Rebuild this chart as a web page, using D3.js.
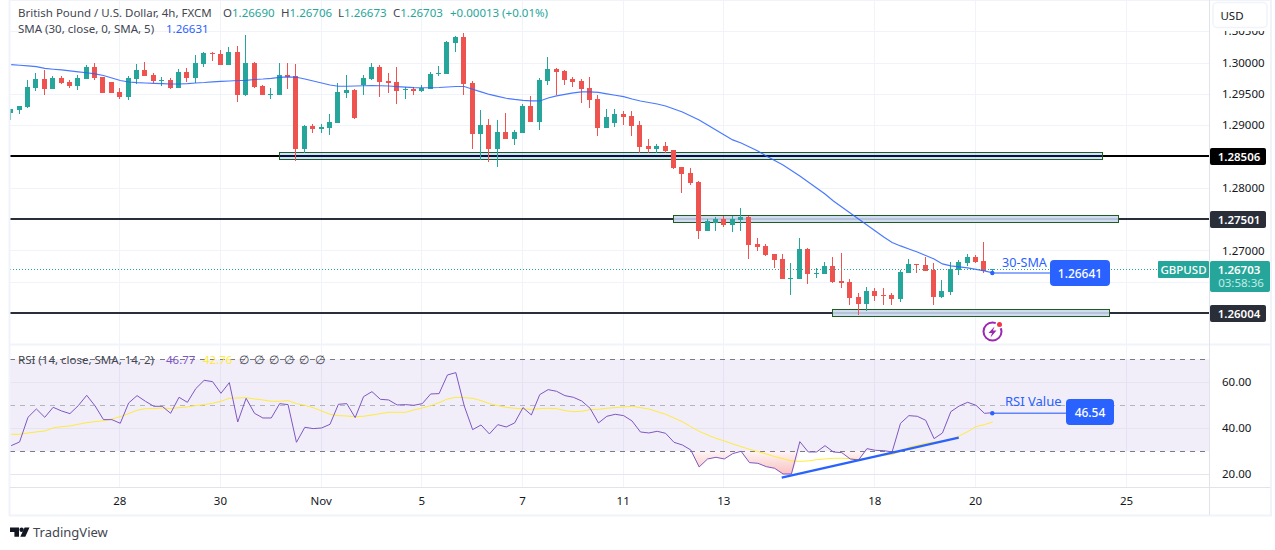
<!DOCTYPE html>
<html>
<head>
<meta charset="utf-8">
<script src="https://cdn.jsdelivr.net/npm/d3@7"></script>
<style>
	html, body { margin: 0; padding: 0; background: #fff; }
	svg { display: block; }
	text { font-family: "Noto Sans", sans-serif; }
</style>
</head>
<body>
<div id="chart"></div>
<script>
// 4h GBPUSD bars
var opens = [
	1.29190,1.29242,1.29290,1.29593,1.29737,1.29578,1.29758,1.29694,1.29625,1.29737,
	1.29929,1.29769,1.29689,1.29530,1.29450,1.29737,1.29881,1.29801,1.29705,1.29721,
	1.29593,1.29849,1.29753,1.29976,1.30152,1.30136,1.29960,1.30168,1.29482,1.29992,
	1.29625,1.29482,1.29482,1.29801,1.29785,1.28620,1.28987,1.28939,1.28955,1.29035,
	1.29514,1.29562,1.29641,1.29737,1.29929,1.29705,1.29689,1.29566,1.29578,1.29546,
	1.29578,1.29817,1.29817,1.30312,1.30407,1.29673,1.28859,1.29003,1.28620,1.28891,
	1.28780,1.28875,1.29306,1.29051,1.29705,1.29897,1.29865,1.29737,1.29705,1.29593,
	1.29418,1.28955,1.29035,1.29179,1.29147,1.29003,1.28668,1.28620,1.28668,1.28604,
	1.28333,1.28237,1.28093,1.27311,1.27439,1.27503,1.27407,1.27487,1.27535,1.27104,
	1.27072,1.26944,1.26864,1.26550,1.26545,1.27024,1.26625,1.26625,1.26753,1.26513,
	1.26497,1.26258,1.26146,1.26354,1.26290,1.26290,1.26226,1.26641,1.26785,1.26769,
	1.26689,1.26258,1.26338,1.26689,1.26800,1.26896,1.26832,1.26690
];
var highs = [
	1.29263,1.29306,1.29726,1.29833,1.29881,1.29785,1.29785,1.29721,1.29801,1.29960,
	1.29992,1.29769,1.29689,1.29589,1.29785,1.29976,1.30008,1.29828,1.29769,1.29748,
	1.29897,1.29913,1.30120,1.30168,1.30168,1.30200,1.30248,1.30264,1.30439,1.30008,
	1.29641,1.29593,1.29992,1.29992,1.29976,1.28998,1.29019,1.29019,1.29179,1.29668,
	1.29801,1.29578,1.29801,1.29992,1.29960,1.29833,1.29929,1.29609,1.29609,1.29641,
	1.29849,1.29945,1.30344,1.30423,1.30471,1.29705,1.29242,1.29099,1.29083,1.29195,
	1.28923,1.29338,1.29466,1.29753,1.30088,1.29913,1.29881,1.29769,1.29737,1.29769,
	1.29482,1.29258,1.29258,1.29226,1.29226,1.29067,1.28780,1.28700,1.28732,1.28604,
	1.28333,1.28317,1.28109,1.27503,1.27535,1.27551,1.27551,1.27678,1.27551,1.27200,
	1.27104,1.26944,1.26944,1.26800,1.27200,1.27040,1.26721,1.26816,1.26896,1.26960,
	1.26545,1.26322,1.26417,1.26401,1.26401,1.26322,1.26689,1.26864,1.26785,1.26896,
	1.26800,1.26529,1.26816,1.26848,1.26944,1.26928,1.27136,1.26706
];
var lows = [
	1.29083,1.29179,1.29270,1.29550,1.29482,1.29578,1.29657,1.29598,1.29562,1.29737,
	1.29721,1.29514,1.29514,1.29418,1.29402,1.29657,1.29785,1.29668,1.29625,1.29578,
	1.29593,1.29689,1.29668,1.29929,1.30024,1.29960,1.29960,1.29370,1.29466,1.29593,
	1.29482,1.29418,1.29482,1.29578,1.28428,1.28561,1.28875,1.28875,1.28843,1.29035,
	1.29434,1.29099,1.29482,1.29721,1.29450,1.29514,1.29338,1.29418,1.29482,1.29530,
	1.29578,1.29785,1.29817,1.30168,1.29482,1.28620,1.28444,1.28412,1.28333,1.28780,
	1.28684,1.28875,1.29051,1.28923,1.29641,1.29482,1.29641,1.29609,1.29354,1.29274,
	1.28827,1.28955,1.28971,1.29003,1.28827,1.28556,1.28556,1.28556,1.28556,1.28301,
	1.27918,1.28045,1.27184,1.27311,1.27311,1.27375,1.27295,1.27311,1.26864,1.26992,
	1.26912,1.26721,1.26545,1.26290,1.26545,1.26465,1.26561,1.26625,1.26481,1.26401,
	1.26130,1.25971,1.26034,1.26194,1.26130,1.26130,1.26178,1.26641,1.26641,1.26673,
	1.26130,1.26242,1.26290,1.26609,1.26753,1.26800,1.26641,1.26673
];
var closes = [
	1.29263,1.29306,1.29609,1.29737,1.29578,1.29758,1.29673,1.29621,1.29753,1.29929,
	1.29753,1.29514,1.29514,1.29450,1.29753,1.29881,1.29785,1.29705,1.29721,1.29593,
	1.29849,1.29753,1.29992,1.30152,1.30131,1.29960,1.30168,1.29482,1.29992,1.29609,
	1.29482,1.29498,1.29801,1.29769,1.28620,1.28987,1.28939,1.28971,1.29051,1.29530,
	1.29562,1.29115,1.29753,1.29929,1.29689,1.29673,1.29546,1.29578,1.29546,1.29593,
	1.29817,1.29833,1.30328,1.30407,1.29657,1.28859,1.29003,1.28620,1.28891,1.28780,
	1.28891,1.29306,1.29051,1.29721,1.29897,1.29849,1.29721,1.29689,1.29578,1.29402,
	1.28955,1.29131,1.29179,1.29131,1.28987,1.28652,1.28620,1.28668,1.28588,1.28317,
	1.28221,1.28077,1.27311,1.27471,1.27503,1.27407,1.27503,1.27535,1.27088,1.27056,
	1.26928,1.26848,1.26545,1.26561,1.27024,1.26625,1.26641,1.26753,1.26497,1.26481,
	1.26242,1.26146,1.26354,1.26274,1.26279,1.26226,1.26657,1.26785,1.26774,1.26673,
	1.26258,1.26354,1.26705,1.26816,1.26896,1.26816,1.26673,1.26703
];
var smaValues = [
	1.29965,1.29956,1.29945,1.29935,1.29905,1.29892,1.29881,1.29865,1.29849,1.29836,
	1.29817,1.29793,1.29753,1.29713,1.29689,1.29678,1.29673,1.29668,1.29664,1.29657,
	1.29657,1.29662,1.29673,1.29681,1.29692,1.29699,1.29705,1.29713,1.29716,1.29729,
	1.29737,1.29748,1.29764,1.29769,1.29764,1.29737,1.29705,1.29673,1.29641,1.29621,
	1.29621,1.29625,1.29629,1.29630,1.29629,1.29625,1.29616,1.29606,1.29598,1.29597,
	1.29597,1.29601,1.29609,1.29617,1.29617,1.29573,1.29530,1.29490,1.29458,1.29429,
	1.29410,1.29397,1.29389,1.29386,1.29434,1.29466,1.29490,1.29514,1.29530,1.29530,
	1.29522,1.29498,1.29477,1.29455,1.29418,1.29386,1.29362,1.29338,1.29306,1.29258,
	1.29210,1.29147,1.29083,1.29003,1.28923,1.28843,1.28764,1.28716,1.28652,1.28588,
	1.28508,1.28436,1.28365,1.28277,1.28189,1.28093,1.27998,1.27902,1.27790,1.27694,
	1.27598,1.27503,1.27407,1.27311,1.27216,1.27128,1.27072,1.27024,1.26976,1.26920,
	1.26864,1.26785,1.26753,1.26737,1.26721,1.26697,1.26673,1.26641
];
var rsiValues = [
	32.46,34.06,44.78,48.41,44.78,49.13,47.54,46.38,49.86,54.35,
	49.71,43.77,43.77,42.17,51.01,54.20,51.74,49.57,49.57,46.52,
	53.48,51.30,57.25,60.87,60.29,55.22,59.86,42.75,53.04,46.52,
	44.49,44.49,50.72,50.29,33.91,40.43,39.86,40.14,41.74,50.43,
	50.72,44.64,53.77,55.94,52.61,52.32,50.14,50.29,50.00,50.72,
	54.93,55.07,63.19,64.20,49.71,39.42,41.45,37.54,41.59,40.58,
	42.32,48.99,45.80,54.64,56.81,56.09,54.20,53.48,51.88,48.70,
	42.32,45.22,46.09,45.51,43.19,38.41,37.97,38.70,37.83,33.91,
	32.75,30.58,23.19,26.67,27.39,26.67,28.99,30.00,25.07,24.78,
	23.33,22.61,20.14,20.14,34.20,29.71,29.71,32.46,29.71,29.42,
	26.67,26.23,31.16,30.43,30.29,29.71,42.17,45.51,45.22,43.48,
	35.51,37.97,47.25,49.71,51.30,50.00,46.52,46.77
];
var rsiMaValues = [
	37.39,37.39,37.97,38.41,38.84,40.14,40.72,41.01,41.74,42.46,
	42.90,43.33,44.06,45.07,46.38,47.83,48.55,48.55,48.84,48.55,
	48.99,49.28,49.86,50.29,50.87,51.74,53.04,53.19,53.33,52.75,
	52.32,51.74,51.74,52.03,50.72,50.00,48.99,47.54,46.09,45.51,
	45.36,45.07,45.22,45.80,46.38,46.96,46.96,46.96,47.97,48.84,
	49.86,51.16,52.75,53.48,53.33,53.04,52.03,50.72,49.86,49.13,
	48.70,48.41,48.26,48.55,48.70,48.55,47.68,47.25,47.39,48.12,
	48.26,48.70,48.99,49.28,49.57,48.99,48.41,47.25,46.09,44.49,
	42.90,40.72,38.70,37.10,35.65,34.49,33.19,32.03,30.87,29.86,
	28.84,27.68,26.81,25.80,25.66,25.80,26.38,26.67,26.96,26.96,
	26.81,26.52,26.96,27.68,28.26,28.70,29.86,31.74,32.61,33.48,
	34.06,34.49,35.22,36.67,38.55,40.72,41.59,42.76
];

var timeTickBars = [13, 25, 37, 49, 61, 73, 85, 103, 115, 133];
var timeTickLabels = ['28', '30', 'Nov', '5', '7', '11', '13', '18', '20', '25'];
var priceGrid = [1.305, 1.30, 1.295, 1.29, 1.285, 1.28, 1.275, 1.27, 1.265, 1.26];
var priceLabels = [1.305, 1.30, 1.295, 1.29, 1.28, 1.27];
var rsiGrid = [20, 40, 60];

var levelPrices = [1.28506, 1.27501, 1.26004];
var levelColors = ['#000000', '#2a2e39', '#2a2e39'];
var zoneStart = [32, 78.98, 97.93];
var zoneEnd = [130.04, 132.07, 130.97];
var zoneTop = [1.28567, 1.27562, 1.26062];
var zoneBottom = [1.28456, 1.27450, 1.25950];
var trendBars = [91.9, 113];
var trendRsi = [18.56, 35.94];

var upColor = '#26a69a', downColor = '#ef5350', blue = '#2962ff';
var textColor = '#434651', gridColor = '#f0f3fa', borderColor = '#e0e3eb';

var svg = d3.select('#chart').append('svg')
	.attr('width', 1275)
	.attr('height', 550);

var x = d3.scaleLinear().domain([0, 117]).range([10.7, 992.3]);
var yPrice = d3.scaleLinear().domain([1.26, 1.30]).range([313.1, 62.5]);
var yRsi = d3.scaleLinear().domain([20, 60]).range([474.3, 382.3]);
var bars = d3.range(opens.length);

svg.append('defs').append('clipPath').attr('id', 'plot')
	.append('rect').attr('x', 10).attr('y', 0).attr('width', 1199).attr('height', 344);

var oversold = svg.select('defs').append('linearGradient')
	.attr('id', 'oversold')
	.attr('gradientUnits', 'userSpaceOnUse')
	.attr('x1', 0).attr('x2', 0)
	.attr('y1', yRsi(30)).attr('y2', yRsi(20));
oversold.append('stop').attr('offset', 0).attr('stop-color', downColor).attr('stop-opacity', 0.06);
oversold.append('stop').attr('offset', 1).attr('stop-color', downColor).attr('stop-opacity', 0.36);

// grid
svg.append('g').selectAll('line').data(timeTickBars).enter().append('line')
	.attr('x1', function(d) { return Math.floor(x(d)) + 0.5; })
	.attr('x2', function(d) { return Math.floor(x(d)) + 0.5; })
	.attr('y1', 0)
	.attr('y2', 487)
	.style('stroke', gridColor);

svg.append('g').selectAll('line').data(priceGrid).enter().append('line')
	.attr('x1', 10)
	.attr('x2', 1209)
	.attr('y1', function(d) { return Math.round(yPrice(d)) + 0.5; })
	.attr('y2', function(d) { return Math.round(yPrice(d)) + 0.5; })
	.style('stroke', gridColor);

// rsi band
svg.append('rect')
	.attr('x', 10)
	.attr('y', yRsi(70))
	.attr('width', 1199)
	.attr('height', yRsi(30) - yRsi(70))
	.style('fill', '#7e57c2')
	.style('fill-opacity', 0.1);

svg.append('g').selectAll('line').data(rsiGrid).enter().append('line')
	.attr('x1', 10)
	.attr('x2', 1209)
	.attr('y1', function(d) { return Math.round(yRsi(d)) + 0.5; })
	.attr('y2', function(d) { return Math.round(yRsi(d)) + 0.5; })
	.style('stroke', '#e6e4f0');

// support and resistance levels
svg.append('g').selectAll('line').data(levelPrices).enter().append('line')
	.attr('x1', 10)
	.attr('x2', 1209)
	.attr('y1', function(d) { return Math.round(yPrice(d)); })
	.attr('y2', function(d) { return Math.round(yPrice(d)); })
	.style('stroke', function(d, i) { return levelColors[i]; })
	.style('stroke-width', 2);

svg.append('g').selectAll('rect').data(zoneStart).enter().append('rect')
	.attr('x', function(d) { return Math.round(x(d)) + 0.5; })
	.attr('y', function(d, i) { return Math.round(yPrice(zoneTop[i])) + 0.5; })
	.attr('width', function(d, i) { return Math.round(x(zoneEnd[i]) - x(d)); })
	.attr('height', function(d, i) { return Math.round(yPrice(zoneBottom[i]) - yPrice(zoneTop[i])); })
	.style('fill', function(d, i) { return i == 0 ? '#2962ff' : '#c9d8ef'; })
	.style('fill-opacity', function(d, i) { return i == 0 ? 0.2 : 0.88; })
	.style('stroke', '#1b5e20')
	.style('stroke-opacity', 1)
	.style('stroke-width', 1);

// candles
var candles = svg.append('g').attr('clip-path', 'url(#plot)')
	.selectAll('g').data(bars).enter().append('g')
	.style('fill', function(i) { return closes[i] >= opens[i] ? upColor : downColor; });

candles.append('rect')
	.attr('x', function(i) { return Math.floor(x(i)); })
	.attr('width', 1)
	.attr('y', function(i) { return yPrice(highs[i]); })
	.attr('height', function(i) { return yPrice(lows[i]) - yPrice(highs[i]); })
	.style('shape-rendering', 'crispEdges');

candles.append('rect')
	.attr('x', function(i) { return Math.floor(x(i)) - 2; })
	.attr('width', 5)
	.attr('y', function(i) { return yPrice(Math.max(opens[i], closes[i])); })
	.attr('height', function(i) { return Math.max(1, Math.abs(yPrice(opens[i]) - yPrice(closes[i]))); })
	.style('shape-rendering', 'crispEdges');

// current price line
svg.append('line')
	.attr('x1', 10)
	.attr('x2', 1209)
	.attr('y1', Math.round(yPrice(closes[117])) + 0.5)
	.attr('y2', Math.round(yPrice(closes[117])) + 0.5)
	.style('stroke', upColor)
	.style('stroke-dasharray', '1 2');

// sma
var smaLine = d3.line()
	.x(function(i) { return x(i) + 0.5; })
	.y(function(i) { return yPrice(smaValues[i]); });

svg.append('path')
	.attr('clip-path', 'url(#plot)')
	.attr('d', smaLine(bars))
	.style('fill', 'none')
	.style('stroke', blue)
	.style('stroke-opacity', 0.85)
	.style('stroke-width', 1.2);

// rsi levels
svg.append('g').selectAll('line').data([70, 50, 30]).enter().append('line')
	.attr('x1', 10)
	.attr('x2', 1209)
	.attr('y1', function(d) { return Math.round(yRsi(d)) + 0.5; })
	.attr('y2', function(d) { return Math.round(yRsi(d)) + 0.5; })
	.style('stroke', function(d) { return d == 50 ? '#b2b5be' : '#787b86'; })
	.style('stroke-dasharray', '5 5');

var rsiArea = d3.area()
	.defined(function(i) { return i >= 80 && i <= 106; })
	.x(function(i) { return x(i) + 0.5; })
	.y0(yRsi(30))
	.y1(function(i) { return yRsi(Math.min(rsiValues[i], 30)); });

svg.append('path')
	.attr('d', rsiArea(bars))
	.style('fill', 'url(#oversold)');

svg.append('path')
	.attr('d', d3.line().x(function(i) { return x(i) + 0.5; }).y(function(i) { return yRsi(rsiMaValues[i]); })(bars))
	.style('fill', 'none')
	.style('stroke', '#ffeb3b')
	.style('stroke-width', 1);

svg.append('path')
	.attr('d', d3.line().x(function(i) { return x(i) + 0.5; }).y(function(i) { return yRsi(rsiValues[i]); })(bars))
	.style('fill', 'none')
	.style('stroke', '#7e57c2')
	.style('stroke-width', 1);

svg.append('line')
	.attr('x1', x(trendBars[0]))
	.attr('x2', x(trendBars[1]))
	.attr('y1', yRsi(trendRsi[0]))
	.attr('y2', yRsi(trendRsi[1]))
	.style('stroke', blue)
	.style('stroke-width', 2.2);

// frame
var frame = svg.append('g').style('stroke', gridColor).style('stroke-width', 2);
frame.append('line').attr('x1', 9.5).attr('x2', 9.5).attr('y1', 0).attr('y2', 516);
frame.append('line').attr('x1', 9).attr('x2', 1272).attr('y1', 515.5).attr('y2', 515.5);
frame.append('line').attr('x1', 1271).attr('x2', 1271).attr('y1', 0).attr('y2', 516);
frame.append('line').attr('x1', 10).attr('x2', 1271).attr('y1', 344.5).attr('y2', 344.5);
frame.append('line').attr('x1', 9).attr('x2', 1272).attr('y1', 0).attr('y2', 0);

svg.append('line')
	.attr('x1', 10).attr('x2', 1270).attr('y1', 487.5).attr('y2', 487.5)
	.style('stroke', borderColor);
svg.append('line')
	.attr('x1', 1209.5).attr('x2', 1209.5).attr('y1', 0).attr('y2', 515)
	.style('stroke', borderColor);

// axes
var styleAxis = function(g) {
	g.select('.domain').remove();
	g.selectAll('.tick line').remove();
	g.selectAll('text')
		.style('font-family', '"Noto Sans", sans-serif')
		.style('font-size', '11.5px')
		.style('fill', '#131722');
};

svg.append('g')
	.attr('transform', 'translate(-0.5,487)')
	.call(d3.axisBottom(x).tickValues(timeTickBars).tickPadding(4)
		.tickFormat(function(d, i) { return timeTickLabels[i]; }))
	.call(styleAxis);

svg.append('g')
	.attr('transform', 'translate(1209,0)')
	.call(d3.axisRight(yPrice).tickValues(priceLabels).tickPadding(7).tickFormat(d3.format('.5f')))
	.call(styleAxis);

svg.append('g')
	.attr('transform', 'translate(1209,0)')
	.call(d3.axisRight(yRsi).tickValues(rsiGrid).tickPadding(7).tickFormat(d3.format('.2f')))
	.call(styleAxis);

// currency button
svg.append('rect').attr('x', 1211).attr('y', 1).attr('width', 58).attr('height', 30).style('fill', '#fff');
svg.append('rect')
	.attr('x', 1213).attr('y', 2.5).attr('width', 54).attr('height', 25).attr('rx', 4)
	.style('fill', '#fff')
	.style('stroke', gridColor)
	.style('stroke-width', 1.5);
svg.append('text').attr('x', 1232).attr('y', 19.5).attr('text-anchor', 'middle')
	.style('font-size', '11.5px').style('fill', '#131722').text('USD');

// price tags
var tagBox = function(x0, y0, w, h, color, rx) {
	svg.append('rect')
		.attr('x', x0).attr('y', y0).attr('width', w).attr('height', h).attr('rx', rx)
		.style('fill', color);
};
var tagText = function(tx, ty, label, color, size, weight) {
	svg.append('text')
		.attr('x', tx).attr('y', ty).attr('text-anchor', 'middle')
		.style('font-size', size + 'px')
		.style('font-weight', weight || 400)
		.style('fill', color)
		.text(label);
};

levelPrices.forEach(function(p, i) {
	tagBox(1210, Math.round(yPrice(p)) - 8, 56, 17, levelColors[i] == '#000000' ? '#000' : '#2a2e39', 2);
	tagText(1239, Math.round(yPrice(p)) + 4.5, d3.format('.5f')(p), '#fff', 11.5, 600);
});

tagBox(1158, 261, 51, 17, upColor, 1);
tagText(1183.5, 273.5, 'GBPUSD', '#fff', 11.5, 500);
tagBox(1210, 261, 60, 31, upColor, 2);
tagText(1239, 273.5, d3.format('.5f')(closes[117]), '#fff', 11.5, 600);
tagText(1241, 287, '03:58:36', '#c2ebe6', 11.5);

// annotations
var smaEnd = yPrice(smaValues[117]), rsiEnd = yRsi(46.54);

svg.append('line').attr('x1', x(117)).attr('x2', 1052).attr('y1', smaEnd).attr('y2', smaEnd)
	.style('stroke', '#8fabff').style('stroke-width', 2);
svg.append('circle').attr('cx', x(117)).attr('cy', smaEnd).attr('r', 2.2).style('fill', blue);
svg.append('text').attr('x', 1002).attr('y', 267).style('font-size', '12.6px').style('fill', blue).text('30-SMA');
tagBox(1050, 260, 60, 26, blue, 4);
tagText(1080, 277.5, d3.format('.5f')(smaValues[117]), '#fff', 12, 500);

svg.append('line').attr('x1', x(117)).attr('x2', 1068).attr('y1', rsiEnd).attr('y2', rsiEnd)
	.style('stroke', '#5f85ff').style('stroke-width', 1.5);
svg.append('circle').attr('cx', x(117)).attr('cy', rsiEnd).attr('r', 2.2).style('fill', blue);
svg.append('text').attr('x', 1005).attr('y', 406).style('font-size', '13px').style('fill', blue).text('RSI Value');
tagBox(1066, 399, 48, 26, blue, 4);
tagText(1090, 416.5, '46.54', '#fff', 12, 500);

// flash icon
var flash = svg.append('g').attr('transform', 'translate(992.5,331.5)');
flash.append('circle').attr('r', 9).style('fill', 'none').style('stroke', '#9c27b0').style('stroke-width', 2);
flash.append('path').attr('d', 'M2,-5 L-4,1.5 L-0.5,1.5 L-2,6 L4,-1 L0.5,-1 Z').style('fill', '#9c27b0');
flash.append('circle').attr('cx', 7).attr('cy', -7).attr('r', 4).style('fill', '#fff');
flash.append('circle').attr('cx', 7).attr('cy', -7).attr('r', 2.5).style('fill', '#f23645');

// legends
var legend = svg.append('text').attr('x', 18).attr('y', 17).style('font-size', '11.5px').style('fill', textColor);
legend.append('tspan').text('British Pound / U.S. Dollar, 4h, FXCM');
[['O', '1.26690', 223], ['H', '1.26706', 281], ['L', '1.26673', 338], ['C', '1.26703', 393]].forEach(function(d) {
	legend.append('tspan').attr('x', d[2]).text(d[0]);
	legend.append('tspan').style('fill', upColor).text(d[1]);
});
legend.append('tspan').attr('x', 450).style('fill', upColor).text('+0.00013 (+0.01%)');

var smaLegend = svg.append('text').attr('x', 18).attr('y', 33).style('font-size', '11.5px').style('fill', textColor);
smaLegend.append('tspan').text('SMA (30, close, 0, SMA, 5)');
smaLegend.append('tspan').attr('x', 166).style('fill', '#2962ff').text('1.26631');

var rsiLegend = svg.append('text').attr('x', 18).attr('y', 364).style('font-size', '11.5px').style('fill', textColor);
rsiLegend.append('tspan').text('RSI (14, close, SMA, 14, 2)');
rsiLegend.append('tspan').attr('x', 166).style('fill', '#7e57c2').text('46.77');
rsiLegend.append('tspan').attr('x', 203).style('fill', '#ffeb3b').text('42.76');
[244, 259, 274, 289, 304, 320].forEach(function(lx) {
	svg.append('text').attr('x', lx).attr('y', 364).attr('text-anchor', 'middle')
		.style('font-size', '11.5px').style('fill', textColor).text('\u2205');
});

// tradingview mark
svg.append('path')
	.attr('d', 'M10,527.5 h9 v9.2 h-4.6 v-4.8 h-4.4 z M24.6,527.5 h4.9 l-4.2,9.2 h-5 z')
	.style('fill', '#131722');
svg.append('circle').attr('cx', 21.6).attr('cy', 529.7).attr('r', 2.2).style('fill', '#131722');
svg.append('text').attr('x', 33).attr('y', 537).style('font-size', '13px').style('fill', '#434651').text('TradingView');
</script>
</body>
</html>
